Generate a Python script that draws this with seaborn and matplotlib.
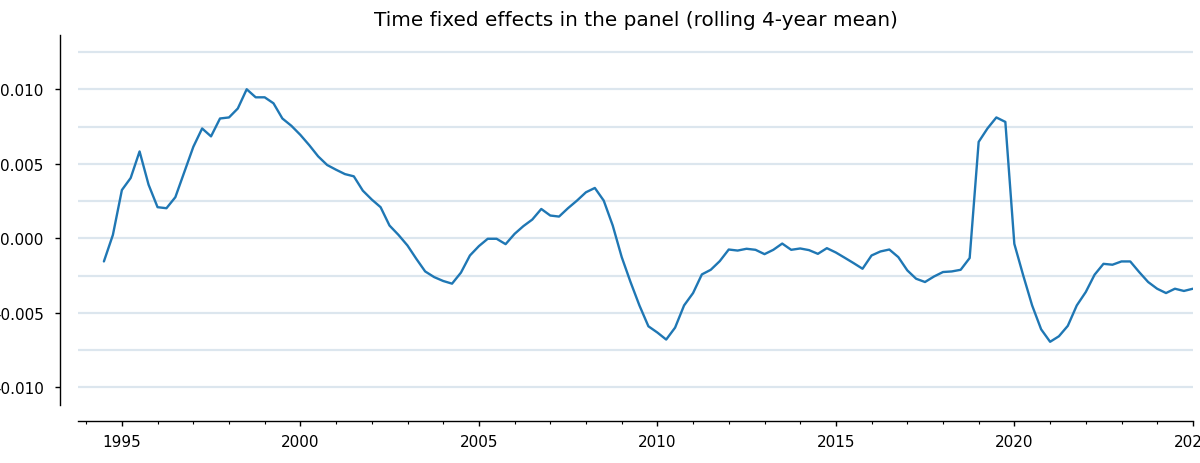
import numpy as np
import pandas as pd
import matplotlib
matplotlib.use("Agg")
import matplotlib.pyplot as plt
import matplotlib.dates as mdates
from matplotlib.ticker import MultipleLocator
import seaborn as sns

# ---- data (quarterly) ----
start_quarter = "1994-06-30"
fixed_effects = [
    -0.00155, 0.00023, 0.00324, 0.00405, 0.00583, 0.00360, 0.00209, 0.00202,
    0.00276, 0.00445, 0.00614, 0.00737, 0.00684, 0.00804, 0.00811, 0.00871,
    0.01000, 0.00946, 0.00946, 0.00906, 0.00804, 0.00755, 0.00694, 0.00625,
    0.00550, 0.00492, 0.00460, 0.00431, 0.00416, 0.00320, 0.00260, 0.00209,
    0.00086, 0.00023, -0.00048, -0.00137, -0.00222, -0.00260, -0.00286, -0.00304,
    -0.00230, -0.00115, -0.00052, -0.00003, -0.00003, -0.00039, 0.00030, 0.00082,
    0.00126, 0.00197, 0.00153, 0.00146, 0.00202, 0.00253, 0.00309, 0.00338,
    0.00253, 0.00086, -0.00126, -0.00293, -0.00450, -0.00590, -0.00632, -0.00679,
    -0.00599, -0.00450, -0.00367, -0.00242, -0.00211, -0.00153, -0.00075, -0.00082,
    -0.00070, -0.00077, -0.00106, -0.00077, -0.00035, -0.00077, -0.00068, -0.00079,
    -0.00104, -0.00066, -0.00095, -0.00130, -0.00166, -0.00204, -0.00115, -0.00088,
    -0.00075, -0.00126, -0.00215, -0.00271, -0.00293, -0.00256, -0.00226, -0.00222,
    -0.00211, -0.00132, 0.00647, 0.00737, 0.00811, 0.00781, -0.00037, -0.00249,
    -0.00450, -0.00610, -0.00694, -0.00657, -0.00587, -0.00450, -0.00360, -0.00244,
    -0.00171, -0.00177, -0.00155, -0.00155, -0.00226, -0.00293, -0.00338, -0.00367,
    -0.00338, -0.00353, -0.00338,
]
title = "Time fixed effects in the panel (rolling 4-year mean)"

dates = pd.date_range(start_quarter, periods=len(fixed_effects), freq="QE")
df = pd.DataFrame({"date": dates, "fe": fixed_effects})

sns.set_style("white")
plt.rcParams["font.family"] = ["DejaVu Sans"]
plt.rcParams["text.color"] = "black"
plt.rcParams["xtick.color"] = "black"
plt.rcParams["ytick.color"] = "black"

fig = plt.figure(figsize=(12, 4.64), dpi=100)
ax = fig.add_axes([78 / 1200, 58 / 464, 1115 / 1200, 370 / 464])

sns.lineplot(data=df, x="date", y="fe", ax=ax, color="#1f77b4", linewidth=1.7)

ax.set_xlim(pd.Timestamp("1993-10-08"), pd.Timestamp("2025-01-01"))
ax.set_ylim(-0.01118, 0.01364)

ax.yaxis.set_major_locator(MultipleLocator(0.005))
ax.yaxis.set_minor_locator(MultipleLocator(0.0025))
ax.yaxis.set_major_formatter(matplotlib.ticker.FormatStrFormatter("%.3f"))
ax.xaxis.set_major_locator(mdates.YearLocator(5))
ax.xaxis.set_minor_locator(mdates.YearLocator(1))
ax.xaxis.set_major_formatter(mdates.DateFormatter("%Y"))

ax.grid(False)
ax.grid(True, axis="y", which="both", color="#dce6ee", linewidth=1.6)
ax.set_axisbelow(True)

ax.tick_params(axis="both", which="major", labelsize=11, length=3.8, width=1,
               color="black", labelcolor="black", direction="out")
ax.tick_params(axis="y", which="major", pad=8.2, left=True)
ax.tick_params(axis="x", which="major", pad=5.5, bottom=True)
ax.tick_params(axis="x", which="minor", length=2.5, width=0.8, color="black",
               direction="out", bottom=True)
ax.tick_params(axis="y", which="minor", length=0, left=False)

sns.despine(ax=ax)
ax.spines["left"].set_position(("outward", 12.7))
ax.spines["bottom"].set_position(("outward", 11.7))
for s in ("left", "bottom"):
    ax.spines[s].set_color("black")
    ax.spines[s].set_linewidth(1.0)

ax.set_xlabel("")
ax.set_ylabel("")
ax.set_title(title, fontsize=14.4, pad=7, color="black")

fig.savefig("out.png", dpi=100)
